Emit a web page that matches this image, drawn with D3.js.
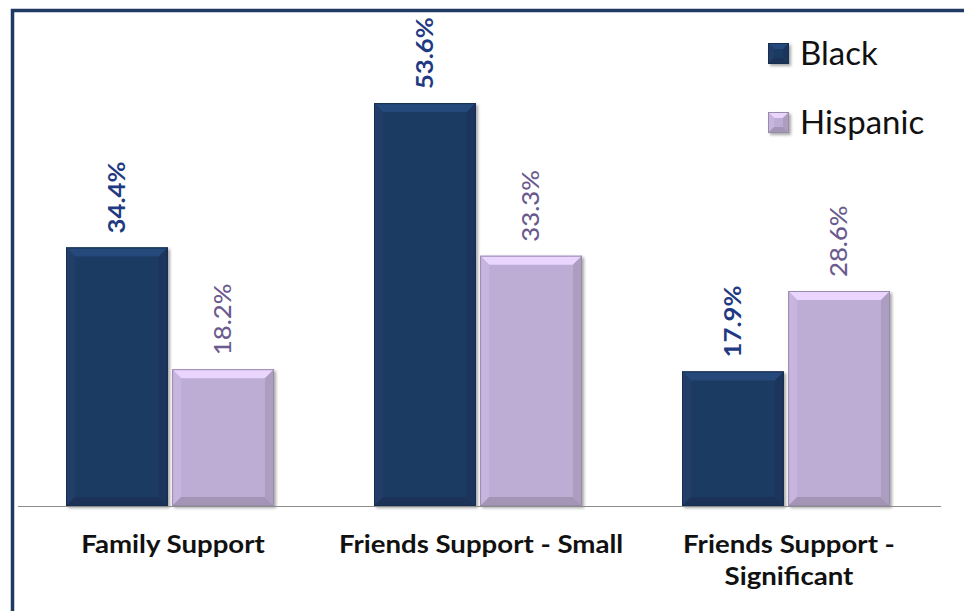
<!DOCTYPE html>
<html>
<head>
<meta charset="utf-8">
<script src="https://cdn.jsdelivr.net/npm/d3@7/dist/d3.min.js"></script>
<style>
  html, body { margin: 0; padding: 0; background: #fff; }
  svg { display: block; }
</style>
</head>
<body>
<svg id="chart" width="964" height="611"></svg>
<script>
// Support sources by group
const categories = [["Family Support"], ["Friends Support - Small"], ["Friends Support -", "Significant"]];
const seriesNames = ["Black", "Hispanic"];
const blackValues = [34.4, 53.6, 17.9];
const hispanicValues = [18.2, 33.3, 28.6];

const fills = { Black: "#1f3a63", Hispanic: "#bdacd3" };
const labelColors = { Black: "#1f3a82", Hispanic: "#6b5a8e" };

const svg = d3.select("#chart");
const font = "Lato, 'Open Sans', sans-serif";

// frame (top and left edges)
svg.append("path")
  .attr("d", "M12.5,611 V10.5 H964")
  .attr("fill", "none").attr("stroke", "#1f3a63").attr("stroke-width", 3.5);

const baseline = 506;
const x0 = d3.scaleBand().domain(d3.range(categories.length)).range([18, 942]).paddingInner(0).paddingOuter(0);
const x1 = d3.scaleBand().domain(seriesNames).range([48, 256]).paddingInner(0.04);
const y = d3.scaleLinear().domain([0, 60]).range([baseline, 55]);

const data = categories.map((c, i) => ({
  i, label: c,
  values: [{ key: "Black", v: blackValues[i] }, { key: "Hispanic", v: hispanicValues[i] }]
}));

// soft shadow
const defs = svg.append("defs");
const f = defs.append("filter").attr("id", "shadow").attr("x", "-10%").attr("y", "-10%").attr("width", "130%").attr("height", "130%");
f.append("feGaussianBlur").attr("in", "SourceAlpha").attr("stdDeviation", 1.5);
f.append("feOffset").attr("dx", 2).attr("dy", 2).attr("result", "ob");
f.append("feComponentTransfer").append("feFuncA").attr("type", "linear").attr("slope", 0.35);
const m = f.append("feMerge");
m.append("feMergeNode");
m.append("feMergeNode").attr("in", "SourceGraphic");

// bevelled bar
function bevelBar(g, x, yTop, w, h, color, b) {
  const c = d3.color(color);
  const grp = g.append("g").attr("filter", "url(#shadow)");
  grp.append("rect").attr("x", x).attr("y", yTop).attr("width", w).attr("height", h).attr("fill", color);
  const bb = Math.min(b, h / 2, w / 2);
  const pts = (arr) => arr.map(p => p.join(",")).join(" ");
  // top facet
  grp.append("polygon").attr("points", pts([[x, yTop], [x + w, yTop], [x + w - bb, yTop + bb], [x + bb, yTop + bb]]))
    .attr("fill", c.brighter(0.6).formatHex());
  // left facet
  grp.append("polygon").attr("points", pts([[x, yTop], [x + bb, yTop + bb], [x + bb, yTop + h - bb], [x, yTop + h]]))
    .attr("fill", c.brighter(0.15).formatHex());
  // right facet
  grp.append("polygon").attr("points", pts([[x + w, yTop], [x + w, yTop + h], [x + w - bb, yTop + h - bb], [x + w - bb, yTop + bb]]))
    .attr("fill", c.darker(0.25).formatHex());
  // bottom facet
  grp.append("polygon").attr("points", pts([[x, yTop + h], [x + bb, yTop + h - bb], [x + w - bb, yTop + h - bb], [x + w, yTop + h]]))
    .attr("fill", c.darker(0.4).formatHex());
  grp.append("rect").attr("x", x + 0.5).attr("y", yTop + 0.5).attr("width", w - 1).attr("height", h - 1)
    .attr("fill", "none").attr("stroke", c.darker(0.6).formatHex()).attr("stroke-width", 1);
}

const groups = svg.selectAll("g.grp").data(data).join("g").attr("class", "grp")
  .attr("transform", d => `translate(${x0(d.i)},0)`);

groups.each(function (d) {
  const g = d3.select(this);
  d.values.forEach(s => {
    bevelBar(g, x1(s.key), y(s.v), x1.bandwidth(), baseline - y(s.v), fills[s.key], 9);
    const cx = x1(s.key) + x1.bandwidth() / 2;
    g.append("text")
      .attr("transform", `translate(${cx + 8},${y(s.v) - 14}) rotate(-90) scale(1.12,1)`)
      .attr("text-anchor", "start")
      .attr("font-family", font)
      .attr("font-size", 23)
      .attr("font-weight", s.key === "Black" ? 700 : 500)
      .attr("fill", labelColors[s.key])
      .text(s.v.toFixed(1) + "%");
  });
});

// baseline axis
svg.append("line").attr("x1", 18).attr("x2", 941).attr("y1", baseline + 0.5).attr("y2", baseline + 0.5)
  .attr("stroke", "#8c8c8c").attr("stroke-width", 1.2);

// category labels
groups.each(function (d) {
  const cx = x0.bandwidth() / 2 + 1;
  const t = d3.select(this).append("text")
    .attr("transform", `translate(${cx},0) scale(1.15,1)`)
    .attr("text-anchor", "middle")
    .attr("font-family", font)
    .attr("font-size", 24)
    .attr("font-weight", 700)
    .attr("fill", "#111");
  d.label.forEach((line, k) => {
    t.append("tspan").attr("x", 0).attr("y", 553 + k * 32).text(line);
  });
});

// legend
const legend = svg.append("g");
seriesNames.forEach((name, i) => {
  const gy = 43 + i * 69;
  bevelBar(legend, 768, gy, 21, 21, fills[name], 6);
  legend.append("text").attr("x", 800).attr("y", gy + 22)
    .attr("font-family", font).attr("font-size", 33).attr("fill", "#111").text(name);
});
</script>
</body>
</html>
